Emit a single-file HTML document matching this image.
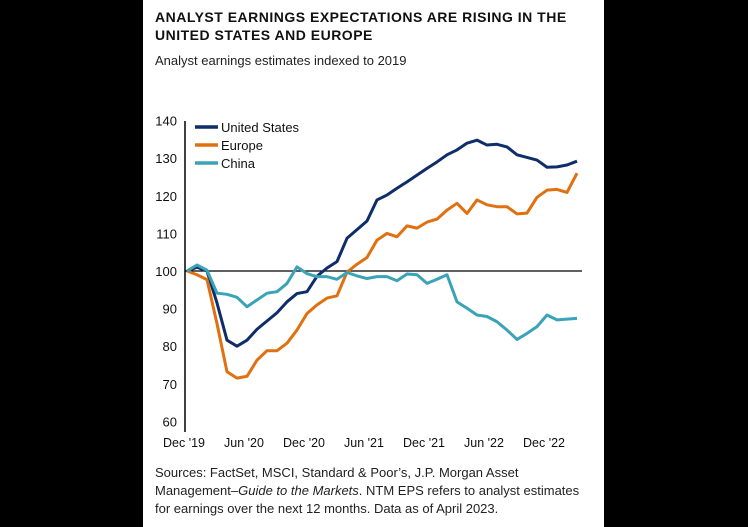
<!DOCTYPE html>
<html><head><meta charset="utf-8"><style>
body{margin:0;background:#000;width:748px;height:527px;overflow:hidden;font-family:"Liberation Sans",sans-serif}
#panel{position:absolute;left:143px;top:0;width:461px;height:527px;background:#fff}
.t{position:absolute;left:12px;font-weight:bold;font-size:14px;letter-spacing:0.5px;color:#111;line-height:18px}
.sub{position:absolute;left:12px;top:53px;font-size:13px;color:#222}
.foot{position:absolute;left:12px;top:464px;font-size:13px;line-height:18px;color:#222;width:450px;white-space:nowrap}
svg{position:absolute;left:0;top:0}
</style></head><body>
<div id="panel">
<div class="t" style="top:8px">ANALYST EARNINGS EXPECTATIONS ARE RISING IN THE<br>UNITED STATES AND EUROPE</div>
<div class="sub">Analyst earnings estimates indexed to 2019</div>
<div class="foot">Sources: FactSet, MSCI, Standard &amp; Poor’s, J.P. Morgan Asset<br>Management–<i>Guide to the Markets</i>. NTM EPS refers to analyst estimates<br>for earnings over the next 12 months. Data as of April 2023.</div>
</div>
<svg id="chart" width="748" height="527"></svg>
<script>
const xLabels=["Dec '19","Jun '20","Dec '20","Jun '21","Dec '21","Jun '22","Dec '22"];
const yTicks=[60,70,80,90,100,110,120,130,140];
const seriesNames=["United States","Europe","China"];
const us=[100,101,100,91.5,81.6,80,81.6,84.5,86.7,88.9,91.8,94,94.5,98.6,100.8,102.5,108.7,111,113.3,118.9,120.2,122,123.7,125.5,127.3,129,130.9,132.2,134,134.8,133.5,133.7,133,130.9,130.2,129.5,127.6,127.7,128.2,129.2];
const europe=[100,99,97.7,86,73.2,71.5,72,76.3,78.8,78.8,80.8,84.3,88.7,91,92.8,93.4,99.7,101.8,103.6,108.2,110,109.1,112,111.4,113,113.8,116.2,118,115.3,118.9,117.6,117.1,117.1,115.2,115.4,119.6,121.5,121.7,120.9,126];
const china=[100,101.6,100.2,94.1,93.8,93,90.5,92.3,94.1,94.5,96.7,101.1,99.3,98.5,98.5,97.8,99.6,98.7,98,98.5,98.5,97.4,99.2,99,96.7,97.8,99,91.8,90.1,88.3,87.9,86.5,84.3,81.8,83.4,85.2,88.3,87,87.2,87.4];
const colors=["#0f2d69","#e07010","#3ba3b8"];
const NS="http://www.w3.org/2000/svg",svg=document.getElementById('chart');
const x=i=>187+i*10, y=v=>271-(v-100)*3.76;
function mk(t,a){const e=document.createElementNS(NS,t);for(const k in a)e.setAttribute(k,a[k]);svg.appendChild(e);return e;}
let ax=mk('line',{x1:185,y1:121,x2:185,y2:432,stroke:'#000','stroke-width':1.5});


let bl=mk('line',{x1:185,y1:y(100),x2:582,y2:y(100),stroke:'#000','stroke-width':1.2});


yTicks.forEach(v=>{const t=mk('text',{x:177,y:y(v)+5,'text-anchor':'end','font-size':13,fill:'#111'});t.textContent=v;

});
xLabels.forEach((l,i)=>{const t=mk('text',{x:x(i*6)-3,y:447,'text-anchor':'middle','font-size':12.5,fill:'#111'});t.textContent=l;

});
[us,europe,china].forEach((d,s)=>{const p=mk('polyline',{points:d.map((v,i)=>x(i)+','+y(v)).join(' '),fill:'none',stroke:colors[s],'stroke-width':3,'stroke-linejoin':'round'});


const ly=127+s*18;
const l=mk('line',{x1:195,y1:ly,x2:218,y2:ly,stroke:colors[s],'stroke-width':3.5});


const t=mk('text',{x:221,y:ly+5,'font-size':13,fill:'#111'});t.textContent=seriesNames[s];

});
</script>
</body></html>
